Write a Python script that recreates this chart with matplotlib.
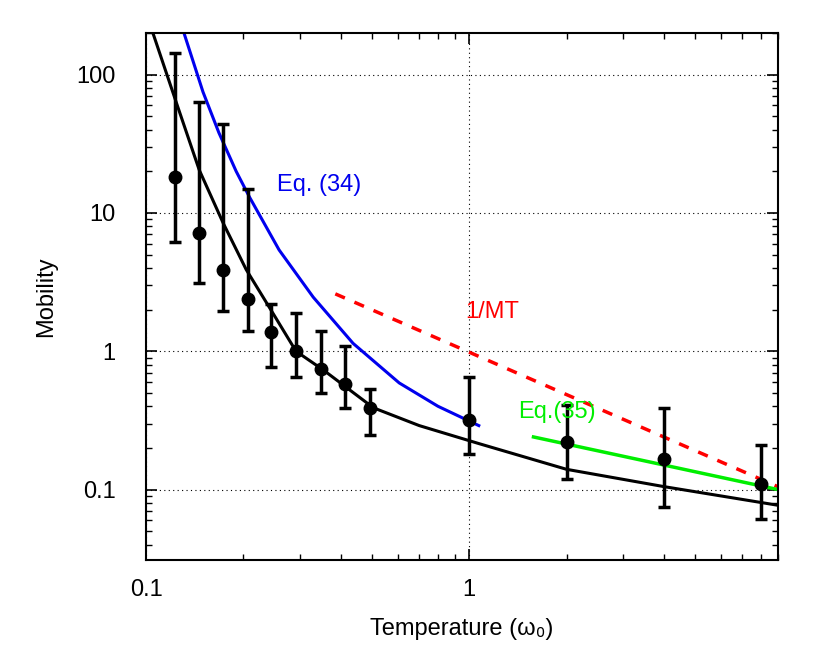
import matplotlib
matplotlib.use("Agg")
import matplotlib.pyplot as plt
import numpy as np

plt.rcParams["font.family"] = "Liberation Sans"

T = [0.123, 0.146, 0.173, 0.206, 0.244, 0.291, 0.348, 0.413, 0.494, 1.0, 2.0, 4.0, 8.0]
mob = [18.2, 7.2, 3.9, 2.4, 1.37, 1.0, 0.75, 0.58, 0.39, 0.316, 0.22, 0.165, 0.11]
upper = [144, 63, 44, 15, 2.2, 1.9, 1.4, 1.1, 0.53, 0.65, 0.41, 0.39, 0.21]
lower = [6.2, 3.1, 1.95, 1.4, 0.77, 0.65, 0.5, 0.39, 0.25, 0.18, 0.12, 0.075, 0.061]

fit_T = [0.105, 0.124, 0.146, 0.173, 0.204, 0.247, 0.291, 0.354, 0.505, 0.7, 1.07, 2.0, 4.0, 9.0]
fit_y = [200, 63, 20.5, 8.5, 3.9, 1.88, 1.0, 0.73, 0.39, 0.29, 0.215, 0.14, 0.105, 0.077]
eq34_T = [0.131, 0.15, 0.168, 0.19, 0.209, 0.258, 0.329, 0.437, 0.607, 0.8, 1.07]
eq34_y = [200, 75, 38, 20, 13, 5.4, 2.46, 1.14, 0.59, 0.4, 0.29]
mt_T = [0.385, 9.0]
mt_y = [2.6, 0.105]
eq35_T = [1.58, 9.0]
eq35_y = [0.24, 0.1]

fig = plt.figure(figsize=(8.3, 6.61), dpi=100)
ax = fig.add_axes([0.176, 0.153, 0.761, 0.797])
ax.set_xscale("log"); ax.set_yscale("log")
ax.set_xlim(0.1, 9.0); ax.set_ylim(0.031, 200)

ax.plot(fit_T, fit_y, color="black", lw=2.2)
ax.plot(eq34_T, eq34_y, color="#0000ee", lw=2.2)
ax.plot(mt_T, mt_y, color="#ff0000", lw=2.5, ls=(0, (3, 3)))
ax.plot(eq35_T, eq35_y, color="#00ee00", lw=2.5)
m = np.array(mob)
yerr = [m - np.array(lower), np.array(upper) - m]
ax.errorbar(T, mob, yerr=yerr, fmt="o", color="black", ms=9, lw=2.5, capsize=4, capthick=2.5)

ax.text(0.255, 14.5, "Eq. (34)", color="#0000ee", fontsize=17)
ax.text(0.97, 1.75, "1/MT", color="#ff0000", fontsize=17)
ax.text(1.42, 0.33, "Eq.(35)", color="#00ee00", fontsize=17)

ax.set_xticks([0.1, 1]); ax.set_xticklabels(["0.1", "1"])
ax.set_yticks([0.1, 1, 10, 100]); ax.set_yticklabels(["0.1", "1", "10", "100"])
ax.tick_params(which="both", direction="in", top=True, right=True, labelsize=17)
ax.tick_params(axis="x", which="major", pad=14)
ax.tick_params(axis="y", which="major", pad=22)
ax.tick_params(which="major", length=8, width=1.2)
ax.tick_params(which="minor", length=4, width=1)
ax.grid(True, which="major", color="black", ls=(0, (1, 3)), lw=0.8)
for s in ax.spines.values():
    s.set_linewidth(1.5)
ax.set_xlabel("Temperature (ω₀)", fontsize=17, labelpad=12)
ax.set_ylabel("Mobility", fontsize=17, labelpad=14)
fig.savefig("out.png", dpi=100)
